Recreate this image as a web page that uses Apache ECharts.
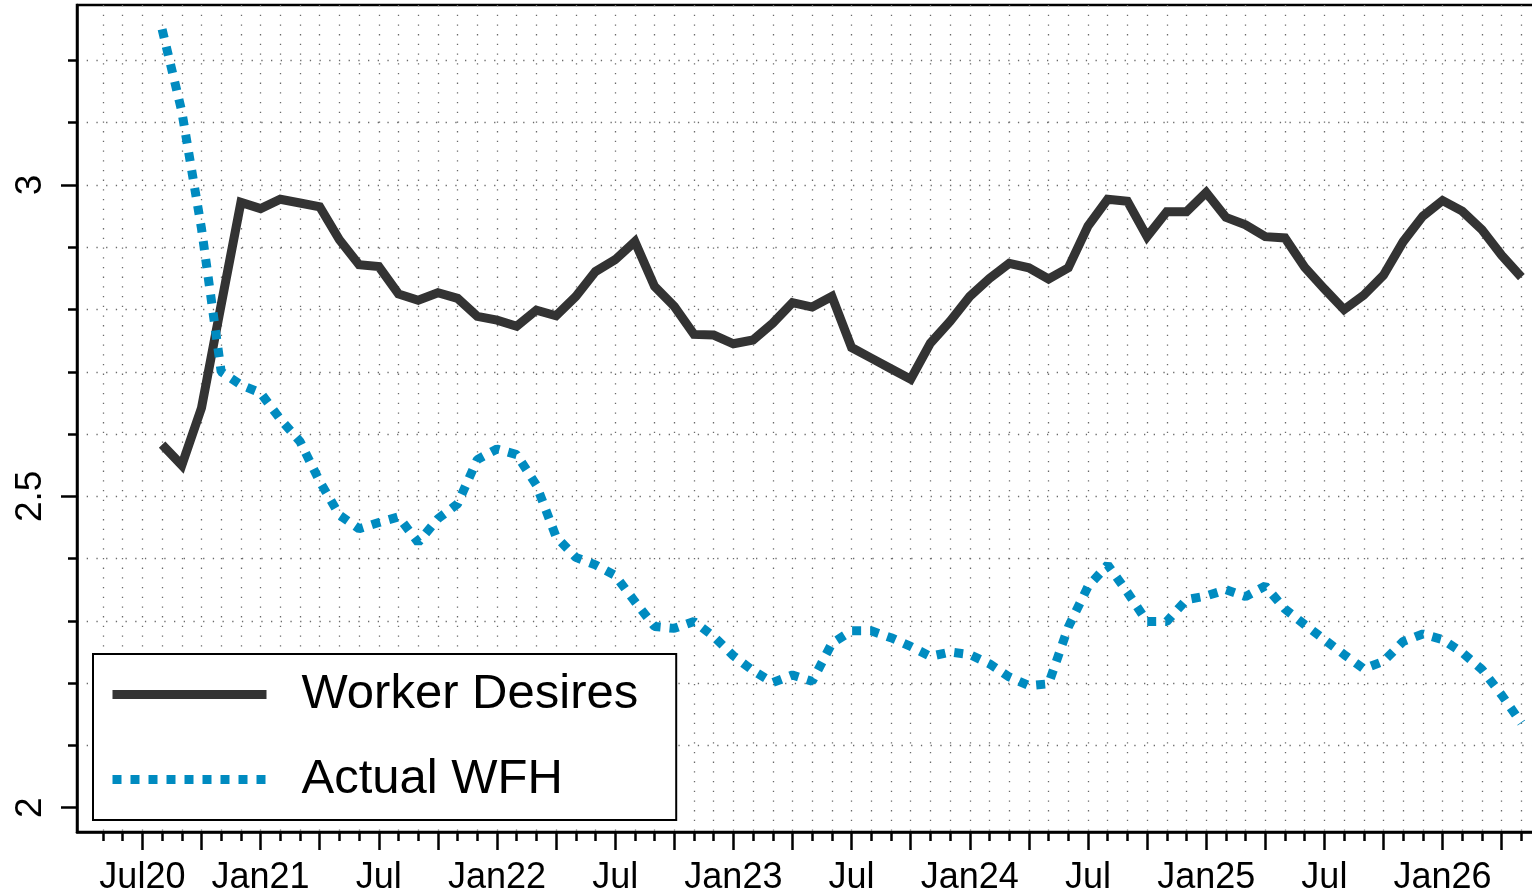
<!DOCTYPE html>
<html><head><meta charset="utf-8">
<script src="https://cdn.jsdelivr.net/npm/echarts@6/dist/echarts.min.js"></script>
<style>html,body{margin:0;padding:0;background:#fff}#c{width:1532px;height:892px}</style>
</head><body><div id="c"></div>
<script>
// x axis: months since Jan 2020 (Jan20 = 0). First data month = Aug 2020.
const firstMonth = 7;
const seriesNames = ['Worker Desires', 'Actual WFH'];
const workerDesires = [
  2.583, 2.550, 2.642, 2.808, 2.972, 2.962, 2.977, 2.971, 2.965, 2.912, 2.872, 2.869,
  2.825, 2.815, 2.827, 2.818, 2.789, 2.783,
  2.773, 2.799, 2.790, 2.821, 2.861, 2.880, 2.909, 2.837, 2.805, 2.760, 2.759, 2.745,
  2.751, 2.778, 2.811, 2.804, 2.821, 2.739, 2.722, 2.705, 2.688, 2.746, 2.781, 2.821, 2.850,
  2.874, 2.867, 2.849, 2.867, 2.934, 2.977, 2.974, 2.917, 2.957, 2.957, 2.988, 2.948,
  2.936, 2.917, 2.915, 2.868, 2.833, 2.800, 2.823, 2.855, 2.909, 2.950, 2.975, 2.958,
  2.928, 2.887, 2.852
];
const actualWFH = [
  3.250, 3.118, 2.930, 2.700, 2.679, 2.666, 2.624, 2.588, 2.524, 2.470, 2.448, 2.458,
  2.467, 2.426, 2.464, 2.488, 2.559, 2.576,
  2.567, 2.518, 2.435, 2.402, 2.390, 2.373, 2.331, 2.291, 2.288, 2.299, 2.275, 2.244,
  2.220, 2.201, 2.213, 2.203, 2.264, 2.284, 2.284, 2.273, 2.259, 2.243, 2.250, 2.246, 2.231,
  2.210, 2.196, 2.199, 2.290, 2.355, 2.390, 2.346, 2.299, 2.299, 2.334, 2.340, 2.350,
  2.339, 2.356, 2.319, 2.294, 2.270, 2.246, 2.223, 2.235, 2.267, 2.279, 2.270, 2.249,
  2.222, 2.181, 2.136
];
const xLabelMonths = [6, 12, 18, 24, 30, 36, 42, 48, 54, 60, 66, 72];
const xLabels = ['Jul20', 'Jan21', 'Jul', 'Jan22', 'Jul', 'Jan23', 'Jul', 'Jan24', 'Jul', 'Jan25', 'Jul', 'Jan26'];
const yLabelValues = [2, 2.5, 3];
const yLabels = ['2', '2.5', '3'];
const yMinorTicks = [2.0, 2.1, 2.2, 2.3, 2.4, 2.5, 2.6, 2.7, 2.8, 2.9, 3.0, 3.1, 3.2];
const yGridValues = [2.1, 2.2, 2.3, 2.4, 2.5, 2.6, 2.7, 2.8, 2.9, 3.0, 3.1, 3.2];

const xMin = 2.68, xMax = 77.2, yMin = 1.961, yMax = 3.289;
const monthTicks = []; for (let m = 4; m <= 77; m++) monthTicks.push(m);
const quarterTicks = []; for (let m = 6; m <= 77; m += 3) quarterTicks.push(m);

const toPairs = arr => arr.map((v, i) => [firstMonth + i, v]);
const FONT = '"Liberation Sans", Arial, Helvetica, sans-serif';
const axisLineStyle = { color: '#000', width: 2.5 };
const gridLineStyle = { color: '#6a6a6a', width: 1.3, type: [1.3, 8.4] };

const chart = echarts.init(document.getElementById('c'), null, { renderer: 'canvas' });
chart.setOption({
  animation: false,
  backgroundColor: '#fff',
  grid: { left: 77, top: 5, width: 1468, height: 827, show: true, borderColor: '#000', borderWidth: 2.5,
          backgroundColor: 'transparent', containLabel: false, outerBoundsMode: 'none' },
  xAxis: [
    { type: 'value', position: 'bottom', min: xMin, max: xMax,
      axisLine: { show: true, lineStyle: axisLineStyle },
      axisTick: { show: true, length: 9, customValues: monthTicks, lineStyle: axisLineStyle },
      axisLabel: { show: false },
      splitLine: { show: true, lineStyle: gridLineStyle } },
    { type: 'value', position: 'bottom', min: xMin, max: xMax,
      axisLine: { show: false },
      axisTick: { show: true, length: 18, customValues: quarterTicks, lineStyle: axisLineStyle },
      axisLabel: { show: true, customValues: xLabelMonths, margin: 28, color: '#000', fontSize: 36, fontFamily: FONT,
        formatter: v => xLabels[xLabelMonths.indexOf(Math.round(v))] },
      splitLine: { show: false } }
  ],
  yAxis: [
    { type: 'value', position: 'left', min: yMin, max: yMax,
      axisLine: { show: true, lineStyle: axisLineStyle },
      axisTick: { show: false, customValues: yGridValues },
      axisLabel: { show: false },
      splitLine: { show: true, lineStyle: gridLineStyle } },
    { type: 'value', position: 'left', min: yMin, max: yMax,
      axisLine: { show: false },
      axisTick: { show: true, length: 9, customValues: yMinorTicks, lineStyle: axisLineStyle },
      axisLabel: { show: false }, splitLine: { show: false } },
    { type: 'value', position: 'left', min: yMin, max: yMax,
      axisLine: { show: false },
      axisTick: { show: true, length: 16, customValues: yLabelValues, lineStyle: axisLineStyle },
      axisLabel: { show: true, customValues: yLabelValues, rotate: 90, margin: 28, color: '#000', fontSize: 37, fontFamily: FONT,
        formatter: v => yLabels[yLabelValues.findIndex(t => Math.abs(t - v) < 1e-6)] },
      splitLine: { show: false } }
  ],
  legend: {
    orient: 'vertical', left: 93, top: 654,
    padding: [16, 38, 16, 15], itemGap: 36, itemWidth: 154, itemHeight: 48,
    backgroundColor: '#fff', borderColor: '#000', borderWidth: 2, borderRadius: 0,
    data: seriesNames,
    lineStyle: { width: 9 },
    itemStyle: { color: 'rgba(0,0,0,0)', borderColor: 'rgba(0,0,0,0)', borderWidth: 0, opacity: 0 },
    textStyle: { color: '#000', fontSize: 49, fontFamily: FONT, padding: [14, 0, 0, 30] }
  },
  series: [
    { name: seriesNames[0], type: 'line', xAxisIndex: 0, yAxisIndex: 0, data: toPairs(workerDesires),
      showSymbol: false, symbol: 'none', z: 3,
      lineStyle: { color: '#333333', width: 9, cap: 'butt', join: 'miter' }, itemStyle: { color: '#333333' } },
    { name: seriesNames[1], type: 'line', xAxisIndex: 0, yAxisIndex: 0, data: toPairs(actualWFH),
      showSymbol: false, symbol: 'none', z: 3,
      lineStyle: { color: '#008bc0', width: 9, type: [9, 9], cap: 'butt' }, itemStyle: { color: '#008bc0' } }
  ]
});
</script></body></html>
